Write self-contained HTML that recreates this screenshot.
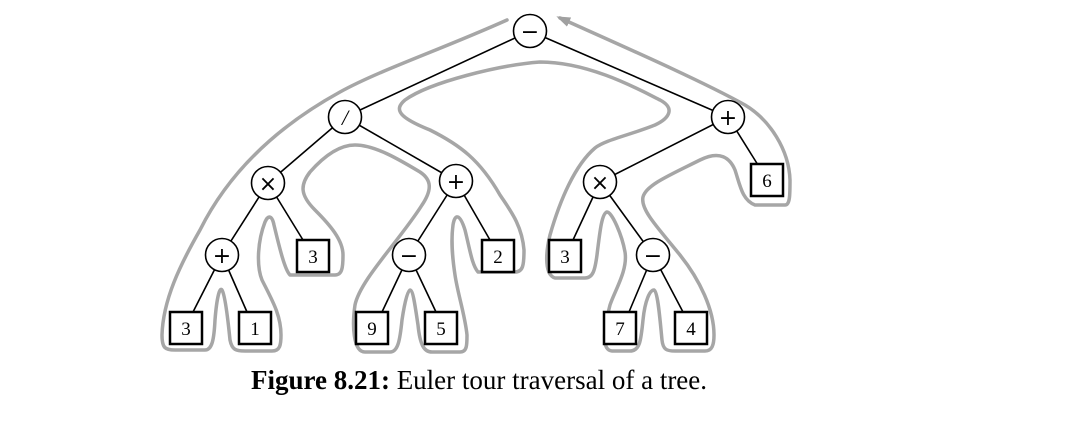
<!DOCTYPE html>
<html><head><style>
body{margin:0;background:#fff;width:1073px;height:424px;overflow:hidden;position:relative}
svg{position:absolute;left:0;top:0}
.cap{position:absolute;left:0;width:958px;top:365px;text-align:center;font-family:"Liberation Serif",serif;font-size:27px;color:#000}
</style></head><body>
<svg width="1073" height="424" viewBox="0 0 1073 424">
<defs><marker id="ar" markerWidth="14" markerHeight="10" refX="10" refY="5" orient="auto" markerUnits="userSpaceOnUse"><path d="M0,0 L14,5 L0,10 z" fill="#a0a0a0"/></marker></defs>
<g fill="none" stroke="#a6a6a6" stroke-width="3.5" stroke-linejoin="round" stroke-linecap="round">
<path d="M507,20 C440,50 380,70 340,92 C280,125 230,170 200,230 C180,265 163,300 162,335 C162,348 165,350 175,350 L205,350 C212,350 214,340 215,320 C217,295 220,287 222,290 C225,295 228,320 230,340 C232,350 236,351 245,351 L272,351 C280,351 281,345 281,335 C281,315 272,300 262,280 C256,265 258,240 265,222 C268,215 272,215 274,225 C280,250 285,270 290,275 L335,275 C342,275 343,268 343,255 C343,240 330,225 315,210 C300,195 300,185 310,172 C325,155 340,145 355,145 C375,145 400,160 420,172 C432,180 432,190 422,205 C400,240 360,280 355,305 C352,325 353,352 365,352 L390,352 C398,352 400,340 402,320 C405,300 408,290 410,290 C413,290 415,305 418,325 C420,345 424,352 432,352 L460,352 C467,352 467,345 467,335 C465,315 458,295 455,275 C452,255 451,240 453,225 C455,213 460,214 465,230 C470,250 472,265 478,272 L515,272 C523,272 524,265 524,250 C522,225 510,210 500,195 C480,160 460,145 430,130 C400,118 393,110 405,100 C430,82 500,65 540,62 C590,62 640,90 660,100 C675,108 670,118 655,125 C630,135 605,140 595,148 C575,165 560,200 550,235 C545,255 545,275 555,278 L585,278 C593,278 595,270 597,255 C600,230 602,213 607,212 C612,212 622,235 625,252 C628,270 615,290 610,305 C605,325 600,350 612,351 L630,351 C640,351 641,340 643,320 C645,300 650,290 654,290 C658,292 660,320 662,340 C663,350 667,351 675,351 L705,351 C712,351 714,345 714,335 C714,310 700,280 680,255 C660,230 640,210 643,197 C646,185 670,175 700,160 C720,150 730,158 735,170 C740,185 742,200 755,205 L785,205 C790,205 790,195 790,180 C789,150 770,120 745,105 C700,80 620,45 560,18" marker-end="url(#ar)"/>
</g>
<g stroke="#000" stroke-width="1.6">
<line x1="530" y1="31" x2="345" y2="117"/><line x1="530" y1="31" x2="728" y2="117"/>
<line x1="345" y1="117" x2="268" y2="183"/><line x1="345" y1="117" x2="456" y2="181"/>
<line x1="268" y1="183" x2="222" y2="255"/><line x1="268" y1="183" x2="303" y2="240"/>
<line x1="222" y1="255" x2="193" y2="312"/><line x1="222" y1="255" x2="247" y2="312"/>
<line x1="456" y1="181" x2="409" y2="255"/><line x1="456" y1="181" x2="490" y2="240"/>
<line x1="409" y1="255" x2="382" y2="312"/><line x1="409" y1="255" x2="436" y2="312"/>
<line x1="728" y1="117" x2="600" y2="182"/><line x1="728" y1="117" x2="758" y2="165"/>
<line x1="600" y1="182" x2="573" y2="240"/><line x1="600" y1="182" x2="653" y2="255"/>
<line x1="653" y1="255" x2="629" y2="312"/><line x1="653" y1="255" x2="683" y2="312"/>
</g>
<g fill="#fff" stroke="#000" stroke-width="1.6">
<circle cx="530" cy="31" r="16.5"/><circle cx="345" cy="117" r="16.5"/><circle cx="268" cy="183" r="16.5"/>
<circle cx="456" cy="181" r="16.5"/><circle cx="222" cy="255" r="16.5"/><circle cx="409" cy="255" r="16.5"/>
<circle cx="728" cy="117" r="16.5"/><circle cx="600" cy="182" r="16.5"/><circle cx="653" cy="255" r="16.5"/>
</g>
<g fill="#fff" stroke="#000" stroke-width="2.5">
<rect x="170" y="312" width="32" height="32"/><rect x="239" y="312" width="32" height="32"/>
<rect x="356" y="312" width="32" height="32"/><rect x="425" y="312" width="32" height="32"/>
<rect x="297" y="240" width="32" height="32"/><rect x="482" y="240" width="32" height="32"/>
<rect x="549" y="240" width="32" height="32"/><rect x="751" y="164" width="32" height="32"/>
<rect x="604" y="312" width="32" height="32"/><rect x="675" y="312" width="32" height="32"/>
</g>
<g font-family="Liberation Serif,serif" font-size="19" text-anchor="middle" fill="#000">
<text x="186" y="335">3</text><text x="255" y="335">1</text><text x="372" y="335">9</text><text x="441" y="335">5</text>
<text x="313" y="263">3</text><text x="498" y="263">2</text><text x="565" y="263">3</text><text x="767" y="187">6</text>
<text x="620" y="335">7</text><text x="691" y="335">4</text>
</g>
<g font-family="DejaVu Sans,sans-serif" font-size="22" text-anchor="middle" fill="#000">
<text x="530" y="39">−</text><text x="345" y="125" font-family="Liberation Serif,serif" font-style="italic">/</text>
<text x="268" y="191">×</text><text x="456" y="189">+</text><text x="222" y="263">+</text><text x="409" y="263">−</text>
<text x="728" y="125">+</text><text x="600" y="190">×</text><text x="653" y="263">−</text>
</g>
</svg>
<div class="cap"><b>Figure 8.21:</b> Euler tour traversal of a tree.</div>
</body></html>
